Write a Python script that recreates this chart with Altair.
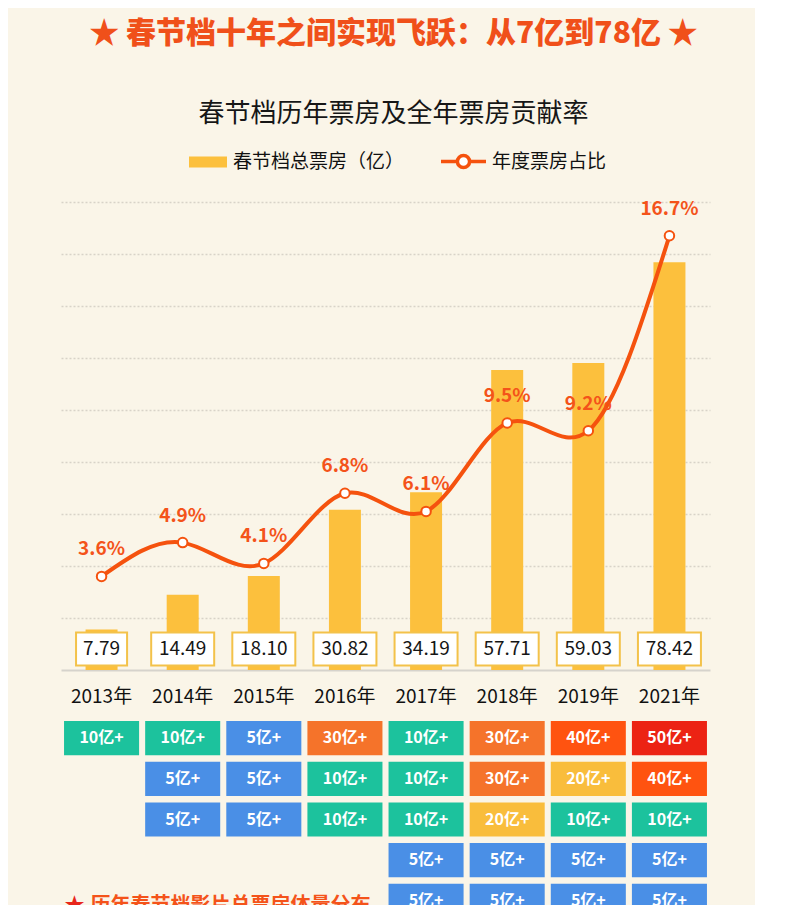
import altair as alt
import pandas as pd

years = ["2013年", "2014年", "2015年", "2016年", "2017年", "2018年", "2019年", "2021年"]
box_office = [7.79, 14.49, 18.10, 30.82, 34.19, 57.71, 59.03, 78.42]
share_pct = [3.6, 4.9, 4.1, 6.8, 6.1, 9.5, 9.2, 16.7]

tiers_2013 = ["10亿+"]
tiers_2014 = ["10亿+", "5亿+", "5亿+"]
tiers_2015 = ["5亿+", "5亿+", "5亿+"]
tiers_2016 = ["30亿+", "10亿+", "10亿+"]
tiers_2017 = ["10亿+", "10亿+", "10亿+", "5亿+", "5亿+"]
tiers_2018 = ["30亿+", "30亿+", "20亿+", "5亿+", "5亿+"]
tiers_2019 = ["40亿+", "20亿+", "10亿+", "5亿+", "5亿+"]
tiers_2021 = ["50亿+", "40亿+", "10亿+", "5亿+", "5亿+"]
tier_lists = [tiers_2013, tiers_2014, tiers_2015, tiers_2016,
              tiers_2017, tiers_2018, tiers_2019, tiers_2021]

tier_names = ["5亿+", "10亿+", "20亿+", "30亿+", "40亿+", "50亿+"]
tier_colors = ["#4A8FE6", "#1CC29D", "#F9BD3C", "#F5732A", "#FF5310", "#EC2314"]

BAR_LEG = "春节档总票房（亿）"
LINE_LEG = "年度票房占比"
SECTION = "历年春节档影片总票房体量分布"
FONT = "Noto Sans CJK SC"
ORANGE = "#F4531A"
LINE_C = "#F5520E"
BAR_C = "#FCC03D"

df = pd.DataFrame({
    "year": years,
    "bo": box_office,
    "pct": share_pct,
})
df["bo_label"] = [f"{v:.2f}" for v in box_office]
df["pct_label"] = [f"{v}%" for v in share_pct]
df["boxw"] = ["w%d" % len(s) for s in df["bo_label"]]
df["bar_leg"] = BAR_LEG
df["line_leg"] = LINE_LEG

tier_rows = []
for y, lst in zip(years, tier_lists):
    for i, t in enumerate(lst):
        tier_rows.append({"year": y, "row": i + 1, "tier": t})
tdf = pd.DataFrame(tier_rows)

W = 649
xscale = alt.Scale(domain=years, paddingInner=0.075, paddingOuter=0.0375)

base = alt.Chart(df)
x_enc = alt.X("year:N", scale=xscale, sort=years,
              axis=alt.Axis(title=None, labelAngle=0, labelFontSize=19, labelColor="#111",
                            labelFont=FONT, domainColor="#d6d3cc", domainWidth=2,
                            ticks=False, tickSize=0, labelPadding=17))

ybar = alt.Scale(domain=[0, 90], nice=False, zero=True)
bars = base.mark_bar(size=32).encode(
    x=x_enc,
    y=alt.Y("bo:Q", scale=ybar,
            axis=alt.Axis(title=None, labels=False, ticks=False, domain=False, grid=True,
                          gridDash=[2, 2], gridColor="#d8d3c8", gridWidth=1.5,
                          values=[10, 20, 30, 40, 50, 60, 70, 80, 90])),
    color=alt.Color("bar_leg:N", scale=alt.Scale(domain=[BAR_LEG], range=[BAR_C]),
                    legend=alt.Legend(title=None, orient="none", legendX=128, legendY=-59,
                                      symbolType="M-1,-0.29H1V0.29H-1Z", symbolSize=1444,
                                      labelFontSize=19, labelFont=FONT, labelColor="#111",
                                      labelLimit=400, labelOffset=6, symbolStrokeWidth=0)),
)

path4 = "M-0.81,-0.524H0.81V0.524H-0.81Z"
path5 = "M-1,-0.524H1V0.524H-1Z"
boxes = base.mark_point(filled=True, fill="white", stroke="#F3C24A", strokeWidth=2,
                        size=3969, opacity=1, yOffset=-21).encode(
    x=alt.X("year:N", scale=xscale, sort=years),
    y=alt.datum(0),
    shape=alt.Shape("boxw:N", scale=alt.Scale(domain=["w4", "w5"], range=[path4, path5]),
                    legend=None),
)
box_text = base.mark_text(dy=-21, fontSize=19, font=FONT, color="#151515").encode(
    x=alt.X("year:N", scale=xscale, sort=years),
    y=alt.datum(0),
    text="bo_label:N",
)

ypct = alt.Scale(domain=[0, 18], nice=False, zero=True)
line = base.mark_line(interpolate="natural", strokeWidth=4).encode(
    x=alt.X("year:N", scale=xscale, sort=years),
    y=alt.Y("pct:Q", scale=ypct, axis=None),
    stroke=alt.Stroke("line_leg:N", scale=alt.Scale(domain=[LINE_LEG], range=[LINE_C]),
                      legend=alt.Legend(title=None, orient="none", legendX=378, legendY=-65,
                                        symbolType="M-1,0H-0.27M0.27,0H1M-0.27,0A0.27,0.27,0,1,1,0.27,0A0.27,0.27,0,1,1,-0.27,0",
                                        symbolSize=2025, symbolStrokeWidth=3.5,
                                        symbolFillColor="white",
                                        labelFontSize=19, labelFont=FONT, labelColor="#111",
                                        labelLimit=400, labelOffset=4)),
)
points = base.mark_point(filled=True, fill="white", stroke=LINE_C, strokeWidth=2,
                         size=90, opacity=1).encode(
    x=alt.X("year:N", scale=xscale, sort=years),
    y=alt.Y("pct:Q", scale=ypct, axis=None),
)
pct_text = base.mark_text(dy=-27, fontSize=19, fontWeight="bold", font=FONT,
                          color=ORANGE).encode(
    x=alt.X("year:N", scale=xscale, sort=years),
    y=alt.Y("pct:Q", scale=ypct, axis=None),
    text="pct_label:N",
)

top = alt.layer(
    alt.layer(bars, boxes, box_text),
    alt.layer(line, points, pct_text),
).resolve_scale(y="independent").properties(width=W, height=468)

tbase = alt.Chart(tdf)
ybox = alt.Scale(domain=[1, 2, 3, 4, 5], paddingInner=0.16, paddingOuter=0)
cells = tbase.mark_rect().encode(
    x=alt.X("year:N", scale=xscale, sort=years, axis=None),
    y=alt.Y("row:O", scale=ybox, axis=None),
    color=alt.Color("tier:N", scale=alt.Scale(domain=tier_names, range=tier_colors),
                    legend=None),
)
cell_text = tbase.mark_text(fontSize=16, fontWeight="bold", font=FONT, color="white").encode(
    x=alt.X("year:N", scale=xscale, sort=years, axis=None),
    y=alt.Y("row:O", scale=ybox, axis=None),
    text="tier:N",
)
section = pd.DataFrame({"year": [years[0]], "row": [5], "t": [SECTION], "s": ["★"]})
star2 = alt.Chart(section).mark_text(align="left", dx=-37, dy=5, fontSize=20,
                                     font=FONT, color="#E8261A").encode(
    x=alt.X("year:N", scale=xscale, sort=years, axis=None),
    y=alt.Y("row:O", scale=ybox, axis=None),
    text="s:N")
sec_text = alt.Chart(section).mark_text(align="left", dx=-11, dy=5, fontSize=20,
                                        fontWeight="bold", font=FONT, color=ORANGE).encode(
    x=alt.X("year:N", scale=xscale, sort=years, axis=None),
    y=alt.Y("row:O", scale=ybox, axis=None),
    text="t:N")

bottom = alt.layer(cells, cell_text, star2, sec_text).properties(width=W, height=197)

chart = alt.vconcat(top, bottom, spacing=15).resolve_scale(
    color="independent"
).properties(
    title=alt.TitleParams(
        text="★ 春节档十年之间实现飞跃：从7亿到78亿 ★",
        subtitle="春节档历年票房及全年票房贡献率",
        fontSize=30, fontWeight=900, color="#F0501A", font=FONT,
        subtitleFontSize=26, subtitleColor="#161616", subtitleFont=FONT,
        subtitlePadding=52, offset=10, anchor="middle", dx=8,
    ),
    padding={"left": 53, "top": 11, "right": 45, "bottom": 0},
    background="#FAF5E8",
).configure(font=FONT).configure_view(stroke="transparent", strokeWidth=0)

chart.save("out.html", embed_options={"renderer": "svg", "actions": False})
